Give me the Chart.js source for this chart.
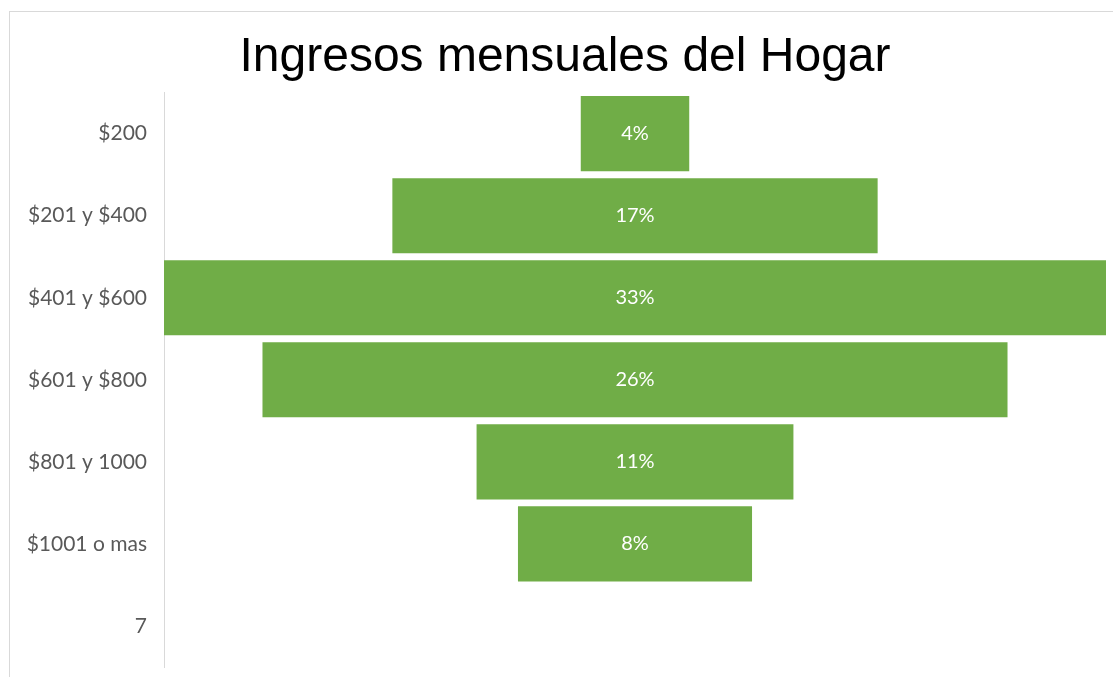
<!DOCTYPE html>
<html>
<head>
<meta charset="utf-8">
<script src="https://cdn.jsdelivr.net/npm/chart.js@4/dist/chart.umd.min.js"></script>
<style>
  body { margin: 0; background: #fff; }
  #wrap { position: relative; width: 1113px; height: 677px; overflow: hidden; }
  #frame { position: absolute; left: 9px; top: 11px; width: 1200px; height: 800px;
           border-top: 1px solid #d9d9d9; border-left: 1px solid #d9d9d9; }
  canvas { position: absolute; left: 0; top: 0; }
</style>
</head>
<body>
<div id="wrap">
  <div id="frame"></div>
  <canvas id="funnel" width="1113" height="677"></canvas>
</div>
<script>
// rangos de ingreso
const categories = ['$200', '$201 y $400', '$401 y $600', '$601 y $800', '$801 y 1000', '$1001 o mas', '7'];
// porcentajes
const values = [3.8, 17, 33, 26.1, 11.1, 8.2, null];
const shownLabels = ['4%', '17%', '33%', '26%', '11%', '8%', ''];

// funnel = barras flotantes centradas en 0
const ranges = values.map(v => v == null ? null : [-v / 2, v / 2]);

const barLabels = {
    id: 'barLabels',
    afterDatasetsDraw(chart) {
        const ctx = chart.ctx;
        const meta = chart.getDatasetMeta(0);
        ctx.save();
        ctx.fillStyle = '#ffffff';
        ctx.font = '20px Lato';
        ctx.textAlign = 'center';
        ctx.textBaseline = 'middle';
        meta.data.forEach((bar, i) => {
            if (values[i] == null) return;
            ctx.fillText(shownLabels[i], (bar.x + bar.base) / 2, bar.y);
        });
        ctx.restore();
    }
};

new Chart(document.getElementById('funnel').getContext('2d'), {
    type: 'bar',
    data: {
        labels: categories,
        datasets: [{
            data: ranges,
            backgroundColor: '#70AD47',
            borderWidth: 0,
            categoryPercentage: 1,
            barPercentage: 0.915
        }]
    },
    options: {
        indexAxis: 'y',
        responsive: false,
        animation: false,
        layout: { padding: { top: 0, right: 7, bottom: 10, left: 24 } },
        plugins: {
            legend: { display: false },
            tooltip: { enabled: false },
            title: {
                display: true,
                text: 'Ingresos mensuales del Hogar',
                color: '#000000',
                font: { family: 'Liberation Sans', size: 48, weight: 'normal' },
                padding: { top: 29, bottom: 6 }
            }
        },
        scales: {
            x: { display: false, min: -16.5, max: 16.5 },
            y: {
                grid: { display: false },
                border: { display: true, color: '#d9d9d9', width: 1 },
                ticks: { color: '#595959', font: { family: 'Lato', size: 21 }, padding: 9 },
                afterFit(scale) {
                    scale.width = 140;
                    scale.paddingTop = 0;
                    scale.paddingBottom = 0;
                }
            }
        }
    },
    plugins: [barLabels]
});
</script>
</body>
</html>
